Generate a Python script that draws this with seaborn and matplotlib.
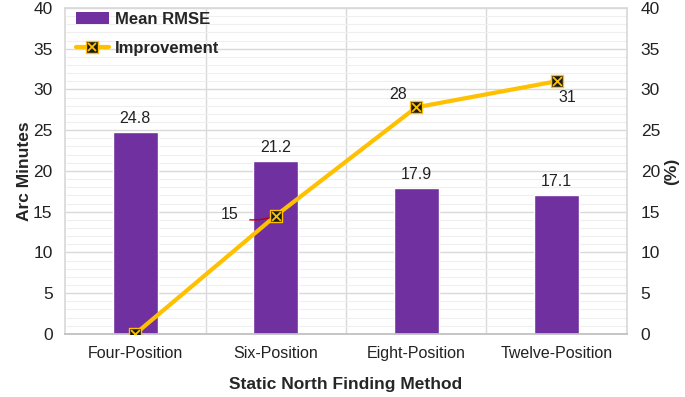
import numpy as np
import pandas as pd
import matplotlib
matplotlib.use('Agg')
import matplotlib.pyplot as plt
from matplotlib.lines import Line2D
from matplotlib.patches import Patch
import seaborn as sns

methods = ['Four-Position', 'Six-Position', 'Eight-Position', 'Twelve-Position']
mean_rmse = [24.8, 21.2, 17.9, 17.1]
improvement = [0.0, 14.5, 27.8, 31.0]
rmse_labels = ['24.8', '21.2', '17.9', '17.1']
impr_labels = ['', '15', '28', '31']

purple = '#7030A0'
gold = '#FFC000'

sns.set_theme(style='white')
plt.rcParams['font.family'] = ['Liberation Sans', 'DejaVu Sans']

df = pd.DataFrame({'method': methods, 'rmse': mean_rmse, 'impr': improvement})

fig = plt.figure(figsize=(6.85, 3.97), dpi=100)
ax = fig.add_axes([0.095, 0.159, 0.82, 0.821])

# grid
ax.set_ylim(0, 40)
ax.set_yticks(np.arange(0, 41, 5))
ax.set_yticks(np.arange(0, 41, 1), minor=True)
ax.grid(True, which='major', axis='y', color='#D9D9D9', lw=1)
ax.grid(True, which='minor', axis='y', color='#EFEFEF', lw=0.8)
ax.set_axisbelow(True)

sns.barplot(data=df, x='method', y='rmse', color=purple, width=0.32,
            saturation=1, ax=ax, zorder=2)
ax.set_xlim(-0.5, 3.5)
for xv in [0.5, 1.5, 2.5]:
    ax.axvline(xv, color='#D9D9D9', lw=1, zorder=0)

for i, (v, lab) in enumerate(zip(mean_rmse, rmse_labels)):
    ax.text(i, v + 0.7, lab, ha='center', va='bottom', fontsize=11.5, color='#222222')

for s in ['left', 'right', 'top']:
    ax.spines[s].set_color('#D9D9D9')
ax.spines['bottom'].set_color('#BFBFBF')

ax.tick_params(axis='both', which='both', length=0)
ax.tick_params(axis='y', pad=9, labelsize=12.5, colors='#222222')
ax.tick_params(axis='x', pad=9, labelsize=11.5, colors='#222222')
ax.set_xlabel('Static North Finding Method', fontsize=12.5, fontweight='bold', labelpad=11)
ax.set_ylabel('Arc Minutes', fontsize=12.5, fontweight='bold', labelpad=1)

ax2 = ax.twinx()
ax2.set_ylim(0, 40)
ax2.set_yticks(np.arange(0, 41, 5))
x_pos = np.arange(len(methods))
sns.lineplot(x=x_pos, y=improvement, color=gold, lw=3, ax=ax2, zorder=3)
ax2.scatter(x_pos, improvement, marker='s', s=75, facecolor='#1A1A1A',
            edgecolor=gold, linewidth=1, zorder=4)
ax2.scatter(x_pos, improvement, marker='x', s=40, color=gold, linewidth=1.3, zorder=5)
ax2.set_xlim(-0.5, 3.5)
ax2.tick_params(axis='y', length=0, pad=10, labelsize=12.5, colors='#222222')
ax2.set_ylabel('(%)', fontsize=12.5, fontweight='bold', labelpad=3)
for s in ax2.spines.values():
    s.set_visible(False)

# improvement labels
ax2.annotate(impr_labels[1], xy=(x_pos[1], improvement[1]), xytext=(x_pos[1] - 0.33, 14.6),
             fontsize=11.5, color='#222222', ha='center', va='center',
             arrowprops=dict(arrowstyle='-', color='#C00000', lw=1,
                             connectionstyle='arc3,rad=0.2', shrinkA=6, shrinkB=1))
ax2.text(x_pos[2] - 0.13, 29.4, impr_labels[2], fontsize=11.5,
         color='#222222', ha='center', va='center')
ax2.text(x_pos[3] + 0.08, 29.0, impr_labels[3], fontsize=11.5,
         color='#222222', ha='center', va='center')

line_h = Line2D([0], [0], color=gold, lw=3, marker='s', markersize=8,
                markerfacecolor='#1A1A1A', markeredgecolor=gold)
x_h = Line2D([0], [0], color='none', marker='x', markersize=5.5,
             markeredgecolor=gold, markeredgewidth=1.3)
handles = [Patch(facecolor=purple, edgecolor='none'), (line_h, x_h)]
leg = ax2.legend(handles, ['Mean RMSE', 'Improvement'], loc='upper left',
                 bbox_to_anchor=(-0.008, 1.035), frameon=False, handlelength=2.0,
                 handletextpad=0.35, prop={'weight': 'bold', 'size': 12},
                 labelspacing=0.85)

fig.savefig('out.png', dpi=100)
